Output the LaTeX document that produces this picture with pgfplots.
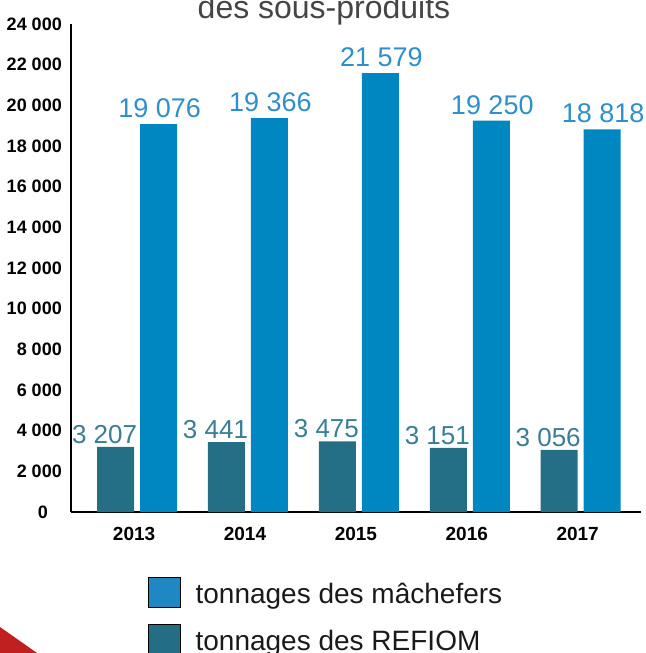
\documentclass[border=0pt]{standalone}
\usepackage{fontspec}
\setmainfont{Liberation Sans}
\usepackage{pgfplots}
\pgfplotsset{compat=1.18}
\definecolor{mach}{HTML}{0086C0}
\definecolor{refiom}{HTML}{246F86}
\definecolor{machleg}{HTML}{1E87C4}
\definecolor{refleg}{HTML}{236D85}
\definecolor{machtxt}{HTML}{2E8FCB}
\definecolor{reftxt}{HTML}{3A7E95}
\definecolor{titlegray}{HTML}{454545}
\definecolor{legtxt}{HTML}{1A1A1A}
\definecolor{redtri}{HTML}{C0201F}
\begin{document}
\begin{tikzpicture}[x=1pt,y=1pt]
\useasboundingbox (0,0) rectangle (645,653);
\clip (0,0) rectangle (645,653);
\fill[redtri] (0,26) -- (0,0) -- (37,0) -- cycle;
\node[anchor=base, inner sep=0pt, font=\fontsize{32}{36}\selectfont, text=titlegray] at (324,634) {des sous-produits};
\begin{axis}[
  at={(71pt,141pt)}, anchor=south west,
  scale only axis, width=570pt, height=488pt,
  xmin=-0.596, xmax=4.544, ymin=0, ymax=24000,
  scaled y ticks=false,
  axis x line*=bottom, axis y line*=left,
  axis line style={-, black},
  x axis line style={line width=2pt},
  y axis line style={line width=1.3pt},
  major tick length=0pt,
  xtick={0,1,2,3,4},
  xticklabels={2013,2014,2015,2016,2017},
  ytick={0,2000,4000,6000,8000,10000,12000,14000,16000,18000,20000,22000,24000},
  yticklabels={0\kern14pt,2 000,4 000,6 000,8 000,10 000,12 000,14 000,16 000,18 000,20 000,22 000,24 000},
  yticklabel style={font=\bfseries\fontsize{18}{18}\selectfont, inner sep=0pt, anchor=east, xshift=-9pt},
  xticklabel style={font=\bfseries\fontsize{19}{19}\selectfont, inner sep=0pt, anchor=north, yshift=-15pt, xshift=-3pt},
  sqlegend/.style={legend image code/.code={\fill[##1] (0pt,-13pt) rectangle (32pt,17pt);}},
  legend style={at={(0.1351,-0.1332)}, anchor=north west, draw=none, fill=none, inner sep=0pt,
    row sep=16pt, font=\fontsize{28}{30}\selectfont, text=legtxt,
    nodes={inner sep=0pt},
    /tikz/every odd column/.append style={column sep=15pt}},
  legend cell align=left,
]
\addplot[ybar, bar width=37pt, bar shift=-21.5pt, fill=refiom, draw=none, forget plot,
  nodes near coords={\pgfmathprintnumber{\pgfplotspointmeta}},
  every node near coord/.append style={anchor=south, inner sep=0pt, yshift=3pt, xshift=-32.5pt,
    font=\fontsize{26}{28}\selectfont, text=reftxt,
    /pgf/number format/.cd, 1000 sep={\ }, assume math mode=true}]
  coordinates {(0,3207) (1,3441) (2,3475) (3,3151) (4,3056)};
\addplot[ybar, bar width=37pt, bar shift=21.5pt, fill=mach, draw=none, forget plot,
  nodes near coords={\pgfmathprintnumber{\pgfplotspointmeta}},
  every node near coord/.append style={anchor=south, inner sep=0pt, yshift=6pt, xshift=22.5pt,
    font=\fontsize{27}{29}\selectfont, text=machtxt,
    /pgf/number format/.cd, 1000 sep={\ }, assume math mode=true}]
  coordinates {(0,19076) (1,19366) (2,21579) (3,19250) (4,18818)};
\addlegendimage{sqlegend, fill=machleg}
\addlegendentry{tonnages des mâchefers}
\addlegendimage{sqlegend, fill=refleg}
\addlegendentry{tonnages des REFIOM}
\end{axis}
\end{tikzpicture}
\end{document}
